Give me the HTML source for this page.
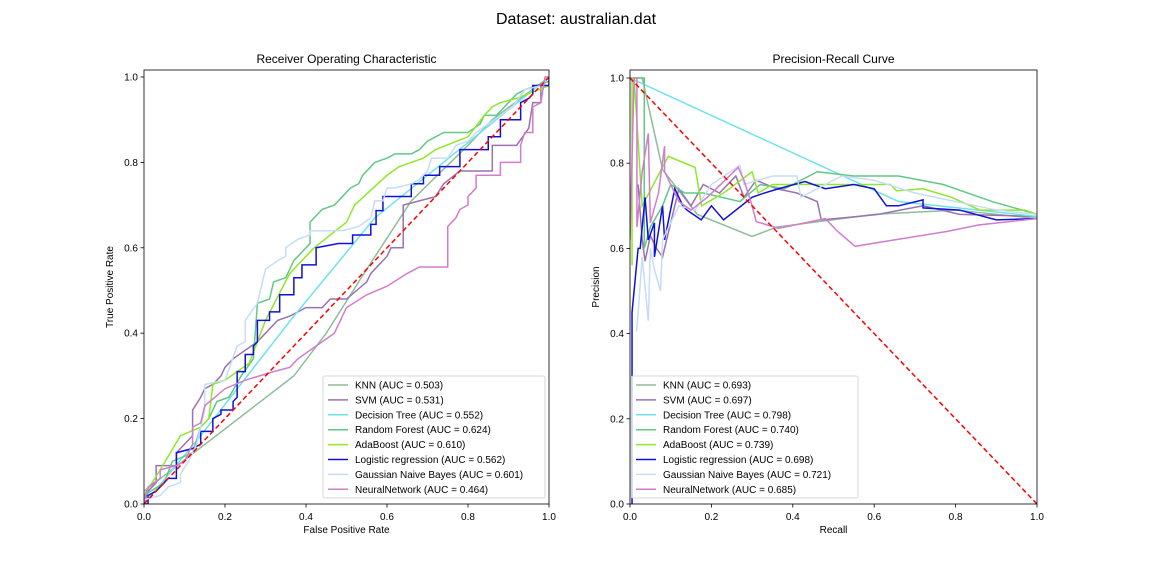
<!DOCTYPE html>
<html><head><meta charset="utf-8"><style>
body{margin:0;background:#fff;font-family:"Liberation Sans","DejaVu Sans",sans-serif;}
svg text{font-family:"Liberation Sans","DejaVu Sans",sans-serif;fill:#000}
</style></head><body>
<svg id="c" width="1152" height="576" viewBox="0 0 1152 576">
<text x="576" y="24" font-size="16" text-anchor="middle">Dataset: australian.dat</text>
</svg>
<script>
const names=["KNN (AUC = 0.503)","SVM (AUC = 0.531)","Decision Tree (AUC = 0.552)","Random Forest (AUC = 0.624)","AdaBoost (AUC = 0.610)","Logistic regression (AUC = 0.562)","Gaussian Naive Bayes (AUC = 0.601)","NeuralNetwork (AUC = 0.464)"];
const prNames=["KNN (AUC = 0.693)","SVM (AUC = 0.697)","Decision Tree (AUC = 0.798)","Random Forest (AUC = 0.740)","AdaBoost (AUC = 0.739)","Logistic regression (AUC = 0.698)","Gaussian Naive Bayes (AUC = 0.721)","NeuralNetwork (AUC = 0.685)"];
const colors=["#8fbc9a","#9a72b2","#6fe2ef","#62c886","#8fe82a","#1010d8","#c6dcf7","#d27cce"];
const ticks=[0,0.2,0.4,0.6,0.8,1.0];
const tickLabels=["0.0","0.2","0.4","0.6","0.8","1.0"];
const rocKnn=[[0,0.03],[0.37,0.3],[0.45,0.4],[0.55,0.55],[0.66,0.71],[0.8,0.84],[0.86,0.9],[1,1]];
const rocSvm=[[0,0],[0.01,0.03],[0.03,0.05],[0.03,0.09],[0.08,0.09],[0.08,0.12],[0.1,0.14],[0.12,0.16],[0.12,0.22],[0.14,0.25],[0.15,0.27],[0.17,0.28],[0.19,0.3],[0.2,0.32],[0.22,0.34],[0.25,0.36],[0.28,0.38],[0.3,0.4],[0.33,0.43],[0.36,0.44],[0.4,0.46],[0.44,0.46],[0.46,0.48],[0.5,0.48],[0.55,0.52],[0.56,0.54],[0.58,0.56],[0.6,0.58],[0.61,0.6],[0.64,0.6],[0.64,0.7],[0.72,0.72],[0.74,0.75],[0.78,0.78],[0.86,0.78],[0.86,0.84],[0.92,0.84],[0.95,0.88],[0.96,0.94],[0.98,0.94],[0.98,0.98],[1,1]];
const rocTree=[[0,0],[0.14,0.16],[0.37,0.44],[0.57,0.67],[1,1]];
const rocRf=[[0,0.02],[0.05,0.05],[0.07,0.1],[0.12,0.12],[0.14,0.18],[0.16,0.2],[0.18,0.24],[0.21,0.25],[0.24,0.3],[0.27,0.34],[0.28,0.47],[0.31,0.48],[0.32,0.52],[0.35,0.53],[0.37,0.57],[0.41,0.61],[0.41,0.66],[0.44,0.69],[0.47,0.7],[0.49,0.72],[0.51,0.74],[0.53,0.75],[0.54,0.77],[0.56,0.79],[0.57,0.8],[0.6,0.81],[0.62,0.82],[0.66,0.82],[0.68,0.83],[0.7,0.85],[0.72,0.86],[0.74,0.87],[0.8,0.87],[0.83,0.89],[0.84,0.91],[0.87,0.91],[0.88,0.92],[0.92,0.96],[0.94,0.97],[0.97,0.98],[1,0.99]];
const rocAda=[[0,0.02],[0.04,0.08],[0.09,0.16],[0.14,0.18],[0.16,0.2],[0.17,0.28],[0.2,0.29],[0.23,0.31],[0.26,0.33],[0.3,0.43],[0.36,0.54],[0.42,0.6],[0.5,0.66],[0.52,0.7],[0.6,0.77],[0.63,0.79],[0.66,0.8],[0.69,0.81],[0.72,0.83],[0.8,0.86],[0.84,0.91],[0.86,0.93],[0.88,0.94],[0.92,0.95],[1,0.98]];
const rocLr=[[0,0],[0.01,0],[0.01,0.02],[0.03,0.03],[0.04,0.04],[0.05,0.05],[0.06,0.06],[0.08,0.06],[0.08,0.12],[0.12,0.13],[0.14,0.14],[0.14,0.17],[0.17,0.17],[0.17,0.2],[0.19,0.21],[0.19,0.22],[0.22,0.22],[0.22,0.24],[0.23,0.25],[0.23,0.31],[0.25,0.31],[0.25,0.35],[0.27,0.35],[0.27,0.37],[0.28,0.38],[0.28,0.43],[0.31,0.43],[0.31,0.45],[0.335,0.45],[0.335,0.49],[0.37,0.49],[0.37,0.53],[0.39,0.53],[0.39,0.56],[0.425,0.56],[0.425,0.6],[0.48,0.61],[0.515,0.61],[0.515,0.63],[0.56,0.63],[0.56,0.655],[0.573,0.655],[0.573,0.687],[0.59,0.687],[0.59,0.72],[0.66,0.72],[0.66,0.75],[0.69,0.75],[0.69,0.77],[0.73,0.77],[0.73,0.79],[0.78,0.79],[0.78,0.83],[0.85,0.83],[0.85,0.86],[0.88,0.86],[0.88,0.9],[0.93,0.9],[0.93,0.94],[0.95,0.95],[0.96,0.96],[0.96,0.98],[1,0.98],[1,1]];
const rocGnb=[[0,0.01],[0.04,0.02],[0.06,0.04],[0.09,0.05],[0.09,0.07],[0.11,0.1],[0.13,0.14],[0.15,0.22],[0.15,0.28],[0.2,0.29],[0.23,0.37],[0.25,0.38],[0.25,0.43],[0.28,0.47],[0.3,0.55],[0.33,0.57],[0.35,0.58],[0.35,0.6],[0.38,0.62],[0.41,0.63],[0.41,0.64],[0.49,0.64],[0.53,0.65],[0.56,0.67],[0.57,0.71],[0.59,0.71],[0.6,0.74],[0.62,0.74],[0.66,0.75],[0.68,0.76],[0.7,0.78],[0.71,0.81],[0.75,0.81],[0.77,0.84],[0.8,0.85],[0.82,0.87],[0.85,0.89],[0.88,0.91],[0.91,0.93],[0.94,0.97],[0.98,0.98],[1,1]];
const rocNn=[[0,0.01],[0.01,0.04],[0.04,0.06],[0.04,0.08],[0.08,0.09],[0.1,0.1],[0.12,0.14],[0.12,0.18],[0.14,0.19],[0.15,0.23],[0.2,0.27],[0.25,0.29],[0.32,0.31],[0.36,0.32],[0.38,0.34],[0.44,0.38],[0.47,0.4],[0.5,0.46],[0.55,0.49],[0.6,0.51],[0.65,0.54],[0.68,0.555],[0.75,0.555],[0.75,0.65],[0.77,0.67],[0.78,0.69],[0.8,0.7],[0.8,0.72],[0.82,0.74],[0.82,0.77],[0.88,0.77],[0.88,0.8],[0.93,0.8],[0.93,0.84],[0.94,0.87],[0.96,0.87],[0.96,0.93],[0.98,0.94],[0.99,1],[1,1]];
const prKnn=[[0,1],[0.03,1],[0.08,0.785],[0.165,0.68],[0.3,0.628],[0.36,0.65],[0.6,0.68],[0.8,0.69],[1,0.67]];
const prSvm=[[0.02,0.75],[0.03,0.62],[0.037,0.57],[0.05,0.63],[0.065,0.6],[0.08,0.58],[0.1,0.66],[0.12,0.74],[0.15,0.7],[0.18,0.75],[0.22,0.73],[0.26,0.77],[0.28,0.72],[0.31,0.76],[0.36,0.74],[0.41,0.73],[0.46,0.71],[0.47,0.667],[0.56,0.675],[0.61,0.68],[0.72,0.7],[0.81,0.68],[1,0.675]];
const prTree=[[0,1],[0.66,0.71],[1,0.675]];
const prRf=[[0,1],[0.035,1],[0.035,0.6],[0.05,0.65],[0.08,0.7],[0.1,0.75],[0.135,0.73],[0.18,0.73],[0.225,0.72],[0.27,0.71],[0.32,0.75],[0.38,0.74],[0.46,0.78],[0.55,0.77],[0.66,0.77],[0.77,0.75],[0.89,0.71],[1,0.68]];
const prAda=[[0.005,0.56],[0.005,1],[0.01,1],[0.03,0.7],[0.094,0.816],[0.16,0.79],[0.176,0.7],[0.23,0.73],[0.3,0.78],[0.315,0.73],[0.35,0.75],[0.45,0.75],[0.64,0.75],[0.655,0.735],[0.72,0.74],[0.79,0.72],[0.86,0.69],[0.97,0.69],[1,0.68]];
const prLr=[[0.005,0],[0.005,0.45],[0.02,0.6],[0.025,0.6],[0.037,0.72],[0.045,0.62],[0.06,0.66],[0.06,0.58],[0.08,0.7],[0.085,0.62],[0.11,0.74],[0.13,0.7],[0.14,0.69],[0.175,0.667],[0.2,0.7],[0.23,0.667],[0.3,0.72],[0.33,0.73],[0.365,0.74],[0.43,0.757],[0.48,0.74],[0.55,0.75],[0.6,0.74],[0.63,0.7],[0.66,0.7],[0.72,0.714],[0.72,0.695],[0.81,0.69],[0.9,0.667],[1,0.67]];
const prGnb=[[0.016,0.405],[0.02,0.45],[0.03,0.58],[0.045,0.43],[0.05,0.6],[0.06,0.55],[0.075,0.5],[0.08,0.62],[0.12,0.7],[0.16,0.69],[0.2,0.75],[0.27,0.795],[0.28,0.75],[0.35,0.77],[0.41,0.77],[0.42,0.72],[0.52,0.77],[0.6,0.76],[0.7,0.73],[0.75,0.72],[0.85,0.7],[0.9,0.69],[1,0.68]];
const prNn=[[0,0.62],[0.01,1],[0.017,1],[0.017,0.65],[0.03,0.78],[0.045,0.87],[0.05,0.66],[0.07,0.73],[0.085,0.84],[0.085,0.78],[0.12,0.71],[0.15,0.69],[0.19,0.72],[0.266,0.79],[0.28,0.76],[0.3,0.7],[0.31,0.663],[0.365,0.647],[0.48,0.67],[0.51,0.64],[0.553,0.605],[0.65,0.62],[0.78,0.64],[0.856,0.655],[1,0.67]];
const rocSeries=[rocKnn,rocSvm,rocTree,rocRf,rocAda,rocLr,rocGnb,rocNn];
const prSeries=[prKnn,prSvm,prTree,prRf,prAda,prLr,prGnb,prNn];
const NS="http://www.w3.org/2000/svg";
const svg=document.getElementById('c');
function mk(tag,attrs,parent){const e=document.createElementNS(NS,tag);for(const k in attrs)e.setAttribute(k,attrs[k]);(parent||svg).appendChild(e);return e;}
function panel(x0,x1,yTop,yBot,ymax,series,labels,title,xl,yl,diag,key){
  const g=mk('g',{});
  
  
  const y1px=yTop+(yBot-yTop)*(ymax-1)/ymax;
  const sx=v=>x0+(x1-x0)*v, sy=v=>yBot-(yBot-y1px)*v;
  const t=mk('text',{x:(x0+x1)/2,y:yTop-7,'font-size':12,'text-anchor':'middle'},g);t.textContent=title;
  
  
  ticks.forEach((v,i)=>{
    mk('line',{x1:sx(v),x2:sx(v),y1:yBot,y2:yBot+3.5,stroke:'#000','stroke-width':0.8},g);
    const a=mk('text',{x:sx(v),y:yBot+16,'font-size':10,'text-anchor':'middle'},g);a.textContent=tickLabels[i];
    
    
    mk('line',{x1:x0-3.5,x2:x0,y1:sy(v),y2:sy(v),stroke:'#000','stroke-width':0.8},g);
    const b=mk('text',{x:x0-6,y:sy(v)+3.5,'font-size':10,'text-anchor':'end'},g);b.textContent=tickLabels[i];
    
    
  });
  const xa=mk('text',{x:(x0+x1)/2,y:yBot+29,'font-size':10,'text-anchor':'middle'},g);xa.textContent=xl;
  
  
  const ya=mk('text',{x:0,y:0,'font-size':10,'text-anchor':'middle',transform:`translate(${x0-31},${(yTop+yBot)/2}) rotate(-90)`},g);ya.textContent=yl;
  
  
  const cp=mk('clipPath',{id:'cp'+key},g);mk('rect',{x:x0,y:yTop,width:x1-x0,height:yBot-yTop},cp);
  const lg=mk('g',{'clip-path':`url(#cp${key})`},g);
  series.forEach((s,i)=>{
    const p=mk('polyline',{points:s.map(d=>sx(d[0])+','+sy(d[1])).join(' '),fill:'none',stroke:colors[i],'stroke-width':1.5,'stroke-linejoin':'miter'},lg);
    
    
  });
  const dl=mk('line',{x1:sx(0),y1:sy(diag[0]),x2:sx(1),y2:sy(diag[1]),stroke:'#ff0000','stroke-width':1.5,'stroke-dasharray':'5,3'},lg);
  
  
  const fr=mk('rect',{x:x0,y:yTop,width:x1-x0,height:yBot-yTop,fill:'none',stroke:'#000','stroke-width':0.8},g);
  
  
  const lx=key==='roc'?x1-226:x0+1, lw=key==='roc'?222:227;
  const leg=mk('g',{},g);
  
  
  mk('rect',{x:lx,y:376,width:lw,height:122,rx:2,fill:'#fff','fill-opacity':0.8,stroke:'#ccc','stroke-width':0.8},leg);
  labels.forEach((l,i)=>{
    const yy=385+i*14.9;
    mk('line',{x1:lx+5,x2:lx+25,y1:yy,y2:yy,stroke:colors[i],'stroke-width':1.5},leg);
    const tt=mk('text',{x:lx+32,y:yy+3.5,'font-size':10},leg);tt.textContent=l;
    
    
  });
}
panel(144,549,70,504,1.0164,rocSeries,names,'Receiver Operating Characteristic','False Positive Rate','True Positive Rate',[0,1],'roc');
panel(630,1037,70,504,1.0188,prSeries,prNames,'Precision-Recall Curve','Recall','Precision',[1,0],'pr');
</script>
</body></html>
